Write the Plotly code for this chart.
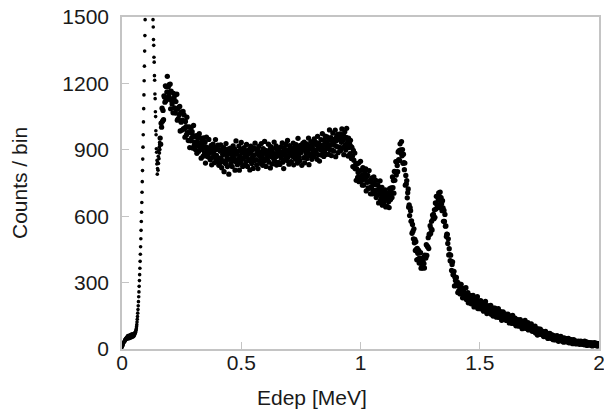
import numpy as np
import plotly.graph_objects as go

# counts per bin
# 0.000 - 0.159 MeV, 1 keV bins (steep low-energy part)
counts_low = [7, 11, 12, 17, 18, 23, 24, 29, 30, 35,
              31, 40, 35, 44, 38, 47, 42, 50, 43, 52,
              44, 55, 47, 58, 49, 61, 52, 45, 59, 50,
              62, 51, 57, 48, 64, 55, 60, 50, 66, 54,
              58, 67, 52, 63, 56, 69, 54, 61, 66, 57,
              68, 60, 71, 64, 74, 69, 77, 75, 82, 86,
              92, 101, 110, 122, 134, 147, 162, 178, 195, 214,
              236, 258, 283, 309, 336, 365, 396, 428, 462, 498,
              536, 576, 618, 662, 708, 756, 806, 858, 912, 968,
              1026, 1086, 1148, 1212, 1278, 1346, 1416, 1488, 1562, 1638,
              1712, 1790, 1866, 1940, 2010, 2076, 2138, 2194, 2244, 2288,
              2320, 2340, 2348, 2342, 2322, 2288, 2240, 2180, 2110, 2030,
              1960, 1900, 1845, 1790, 1740, 1690, 1645, 1600, 1560, 1525,
              1488, 1455, 1398, 1372, 1318, 1296, 1235, 1214, 1152, 1131,
              1072, 1050, 986, 968, 905, 889, 836, 852, 790, 815,
              842, 808, 871, 838, 896, 860, 912, 885, 934, 901]

# 0.160 - 0.958 MeV, 2 keV bins (Compton continuum)
counts_continuum = [
    953, 925, 1020, 1002, 1088, 1029, 1078, 1036, 1144, 1139, 1115, 1189, 1122, 1185, 1161, 1232, 1128, 1184, 1142, 1194, 1160, 1197, 1085, 1165, 1122,
    1107, 1131, 1067, 1155, 1131, 1089, 1147, 1066, 1118, 1083, 1151, 1034, 1085, 1041, 1092, 1058, 1096, 985, 1067, 1025, 1070, 989, 1034, 1073, 995,
    1058, 995, 957, 1028, 1005, 967, 1047, 978, 1002, 942, 978, 1003, 910, 978, 941, 1000, 954, 982, 908, 964, 1010, 918, 934, 960, 901,
    920, 964, 884, 937, 953, 919, 893, 973, 920, 901, 953, 862, 929, 937, 902, 871, 954, 913, 885, 934, 840, 913, 957, 871, 900,
    901, 867, 947, 884, 910, 855, 893, 920, 832, 900, 866, 926, 883, 912, 842, 899, 946, 858, 875, 902, 847, 921, 863, 830, 901,
    840, 894, 922, 861, 819, 902, 879, 846, 910, 801, 881, 893, 838, 928, 853, 869, 824, 903, 881, 790, 893, 857, 908, 837, 882,
    895, 824, 870, 918, 849, 862, 904, 808, 885, 940, 844, 880, 833, 893, 858, 917, 808, 872, 898, 840, 933, 856, 886, 825, 905,
    865, 910, 832, 892, 877, 846, 924, 867, 825, 897, 881, 851, 902, 809, 887, 916, 859, 838, 898, 871, 816, 909, 876, 852, 930,
    904, 856, 832, 884, 899, 815, 878, 915, 849, 870, 891, 838, 928, 862, 874, 830, 905, 884, 848, 938, 858, 897, 825, 891, 870,
    856, 889, 925, 844, 877, 902, 818, 914, 869, 893, 836, 905, 884, 860, 935, 849, 882, 867, 918, 831, 900, 873, 909, 843, 888,
    894, 834, 885, 913, 862, 877, 931, 844, 893, 815, 908, 881, 857, 924, 873, 900, 852, 942, 867, 892, 835, 919, 877, 907, 844,
    847, 905, 887, 870, 930, 832, 895, 914, 881, 857, 923, 876, 906, 840, 952, 889, 868, 901, 851, 920, 887, 914, 830, 905, 929,
    900, 864, 934, 841, 911, 893, 882, 927, 861, 919, 886, 953, 833, 902, 918, 873, 937, 880, 857, 911, 929, 897, 870, 949, 886,
    883, 934, 897, 920, 857, 961, 878, 909, 929, 849, 920, 900, 946, 876, 911, 973, 890, 922, 870, 942, 898, 962, 879, 935, 914,
    958, 907, 925, 880, 946, 990, 900, 920, 955, 874, 941, 898, 976, 927, 894, 947, 920, 989, 869, 940, 960, 914, 970, 887, 947,
    912, 947, 972, 896, 959, 934, 994, 910, 941, 968, 878, 951, 981, 921, 899, 956, 997, 911, 934, 872, 953, 910, 930, 883, 943,
]

# 0.960 - 1.458 MeV, 2 keV bins (edge and the two photopeaks)
counts_peaks = [
    915, 861, 911, 871, 824, 897, 853, 821, 885, 814, 837, 762, 815, 837, 775, 798, 840, 756, 804, 776, 848, 760, 808, 784, 740,
    819, 766, 741, 786, 797, 769, 814, 714, 778, 753, 786, 728, 756, 806, 726, 756, 701, 766, 733, 773, 701, 750, 717, 777, 702,
    714, 742, 762, 684, 717, 696, 743, 719, 660, 731, 700, 760, 671, 713, 683, 730, 650, 696, 711, 660, 701, 675, 719, 642, 682,
    693, 644, 681, 704, 665, 639, 724, 691, 675, 728, 709, 685, 777, 729, 761, 704, 802, 762, 801, 847, 786, 845, 829, 801, 890,
    856, 896, 852, 927, 900, 884, 937, 873, 901, 839, 880, 842, 810, 840, 740, 784, 746, 761, 683, 706, 723, 641, 651, 603, 639,
    625, 577, 579, 523, 563, 532, 498, 543, 480, 495, 445, 485, 450, 403, 455, 432, 406, 445, 388, 412, 393, 435, 365, 400, 376,
    366, 396, 414, 386, 366, 424, 416, 411, 471, 423, 464, 462, 503, 454, 519, 517, 557, 522, 544, 577, 538, 605, 588, 608, 589,
    629, 595, 660, 632, 690, 654, 640, 688, 674, 705, 639, 688, 709, 656, 684, 656, 625, 670, 638, 577, 626, 576, 608, 555, 556,
    508, 519, 518, 477, 498, 425, 453, 426, 399, 424, 396, 355, 382, 394, 336, 335, 351, 285, 324, 309, 289, 323, 286, 303, 255,
    290, 263, 294, 268, 249, 277, 292, 253, 264, 231, 272, 261, 246, 274, 232, 248, 277, 224, 247, 229, 255, 209, 243, 228, 242,
]

# 1.460 - 2.000 MeV, 2 keV bins (tail)
counts_tail = [
    219, 241, 204, 226, 234, 208, 242, 216, 190, 224, 219, 197, 229, 204, 208, 236, 183, 212, 200, 216, 182, 205, 218, 182, 190,
    207, 185, 193, 171, 207, 195, 175, 215, 182, 193, 160, 186, 196, 174, 165, 189, 178, 166, 197, 157, 178, 184, 166, 149, 185,
    156, 175, 184, 157, 165, 144, 175, 165, 156, 182, 143, 166, 156, 144, 169, 158, 130, 162, 147, 168, 141, 149, 133, 159, 150,
    148, 129, 152, 139, 158, 129, 138, 118, 149, 141, 128, 144, 116, 133, 152, 118, 135, 123, 114, 139, 125, 105, 130, 117, 133,
    113, 130, 103, 121, 117, 133, 104, 111, 120, 92, 123, 112, 102, 96, 117, 129, 103, 93, 111, 105, 95, 119, 86, 110, 105,
    110, 90, 102, 113, 93, 80, 99, 91, 100, 80, 85, 103, 72, 88, 77, 91, 63, 83, 91, 77, 67, 81, 90, 67, 70,
    70, 81, 63, 74, 56, 75, 68, 63, 80, 55, 66, 63, 71, 48, 66, 61, 53, 70, 55, 64, 47, 58, 64, 50, 42,
    60, 47, 54, 41, 57, 50, 43, 60, 48, 52, 35, 55, 43, 47, 39, 57, 40, 50, 35, 44, 46, 31, 50, 39, 43,
    35, 44, 47, 32, 39, 36, 48, 28, 37, 41, 32, 28, 42, 37, 33, 24, 37, 42, 27, 34, 31, 37, 23, 33, 27,
    32, 25, 35, 29, 21, 32, 26, 36, 23, 28, 21, 32, 29, 23, 19, 35, 24, 28, 20, 32, 16, 25, 29, 21, 26,
    22, 29, 17, 24, 27, 22, 14, 28, 22, 18, 25, 29, 16, 22, 19, 25, 13, 22, 20, 24, 16,
]

y_ticks = [0, 300, 600, 900, 1200, 1500]
x_ticks = [0, 0.5, 1, 1.5, 2]
x_tick_text = ["0", "0.5", "1", "1.5", "2"]

counts_high = counts_continuum + counts_peaks + counts_tail
e_low = np.round(np.arange(len(counts_low)) * 0.001, 4)
e_high = np.round(0.16 + np.arange(len(counts_high)) * 0.002, 4)

fig = go.Figure()
# fine 1 keV bins: small dots; wider 2 keV bins: bigger dots so the noisy band fills in
fig.add_trace(go.Scatter(x=e_low, y=counts_low, mode="markers",
                         marker=dict(color="black", size=3.6, line=dict(width=0)),
                         showlegend=False))
fig.add_trace(go.Scatter(x=e_high, y=counts_high, mode="markers",
                         marker=dict(color="black", size=5.3, line=dict(width=0)),
                         showlegend=False))

font = dict(family="Liberation Sans, Arial, sans-serif", size=21, color="#1a1a1a")
axis_style = dict(showline=True, mirror=True, linecolor="#c4c4c4", linewidth=1.5,
                  ticks="inside", ticklen=7, tickwidth=1, tickcolor="#c4c4c4",
                  showgrid=False, zeroline=False, tickfont=font, automargin=False,
                  ticklabeloverflow="allow")

fig.update_layout(
    width=604, height=412,
    margin=dict(l=122, r=5, t=17, b=63),
    plot_bgcolor="white", paper_bgcolor="white",
    font=font,
    xaxis=dict(range=[0, 2], tickvals=x_ticks, ticktext=x_tick_text,
               ticklabelstandoff=-6, **axis_style),
    yaxis=dict(range=[0, 1500], tickvals=y_ticks, ticklabelstandoff=7, **axis_style),
    annotations=[
        dict(text="Edep [MeV]", xref="paper", yref="paper", x=0.398, y=0,
             xanchor="center", yanchor="middle", yshift=-48, showarrow=False, font=font),
        dict(text="Counts / bin", xref="paper", yref="paper", x=0, y=0.5,
             xanchor="center", yanchor="middle", xshift=-103, textangle=-90,
             showarrow=False, font=font),
    ],
)

# page body has a default margin; drop it so the figure sits at the window corner
fig.write_html("out.html", config={"displayModeBar": False},
               post_script="document.body.style.margin='0px';")
